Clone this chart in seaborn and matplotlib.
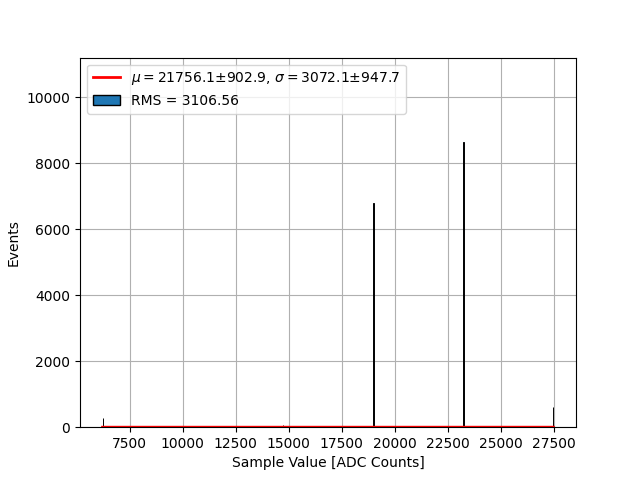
import numpy as np
import pandas as pd
import seaborn as sns
import matplotlib
matplotlib.use("Agg")
import matplotlib.pyplot as plt
from matplotlib.ticker import MultipleLocator

# ADC sample values where the events pile up, and event counts
sample_values = [6223, 14734, 18990, 23245, 27495]
event_counts = [270, 80, 6780, 8630, 610]

# gaussian fit result
fit_mu, fit_mu_err = 21756.1, 902.9
fit_sigma, fit_sigma_err = 3072.1, 947.7
fit_amp = 2.0
rms = 3106.56

df = pd.DataFrame({"value": sample_values, "events": event_counts})

fig, ax = plt.subplots(figsize=(6.4, 4.8), dpi=100)

sns.histplot(data=df, x="value", weights="events", bins=1000,
             binrange=(min(sample_values), max(sample_values)),
             color="C0", edgecolor="black", linewidth=0.7, alpha=1,
             label=f"RMS = {rms:.2f}", ax=ax)

xfit = np.linspace(min(sample_values), max(sample_values), 500)
yfit = fit_amp * np.exp(-0.5 * ((xfit - fit_mu) / fit_sigma) ** 2)
ax.plot(xfit, yfit, color="red", linewidth=2,
        label=rf"$\mu = {fit_mu}{{\pm}}{fit_mu_err}$, $\sigma = {fit_sigma}{{\pm}}{fit_sigma_err}$")

ax.xaxis.set_major_locator(MultipleLocator(2500))
ax.set_ylim(0, 11200)
ax.set_xlabel("Sample Value [ADC Counts]")
ax.set_ylabel("Events")
ax.grid(True)
ax.set_axisbelow(True)
leg = ax.legend(loc="upper left")
leg.legend_handles[1].set_linewidth(1)

fig.savefig("out.png")
